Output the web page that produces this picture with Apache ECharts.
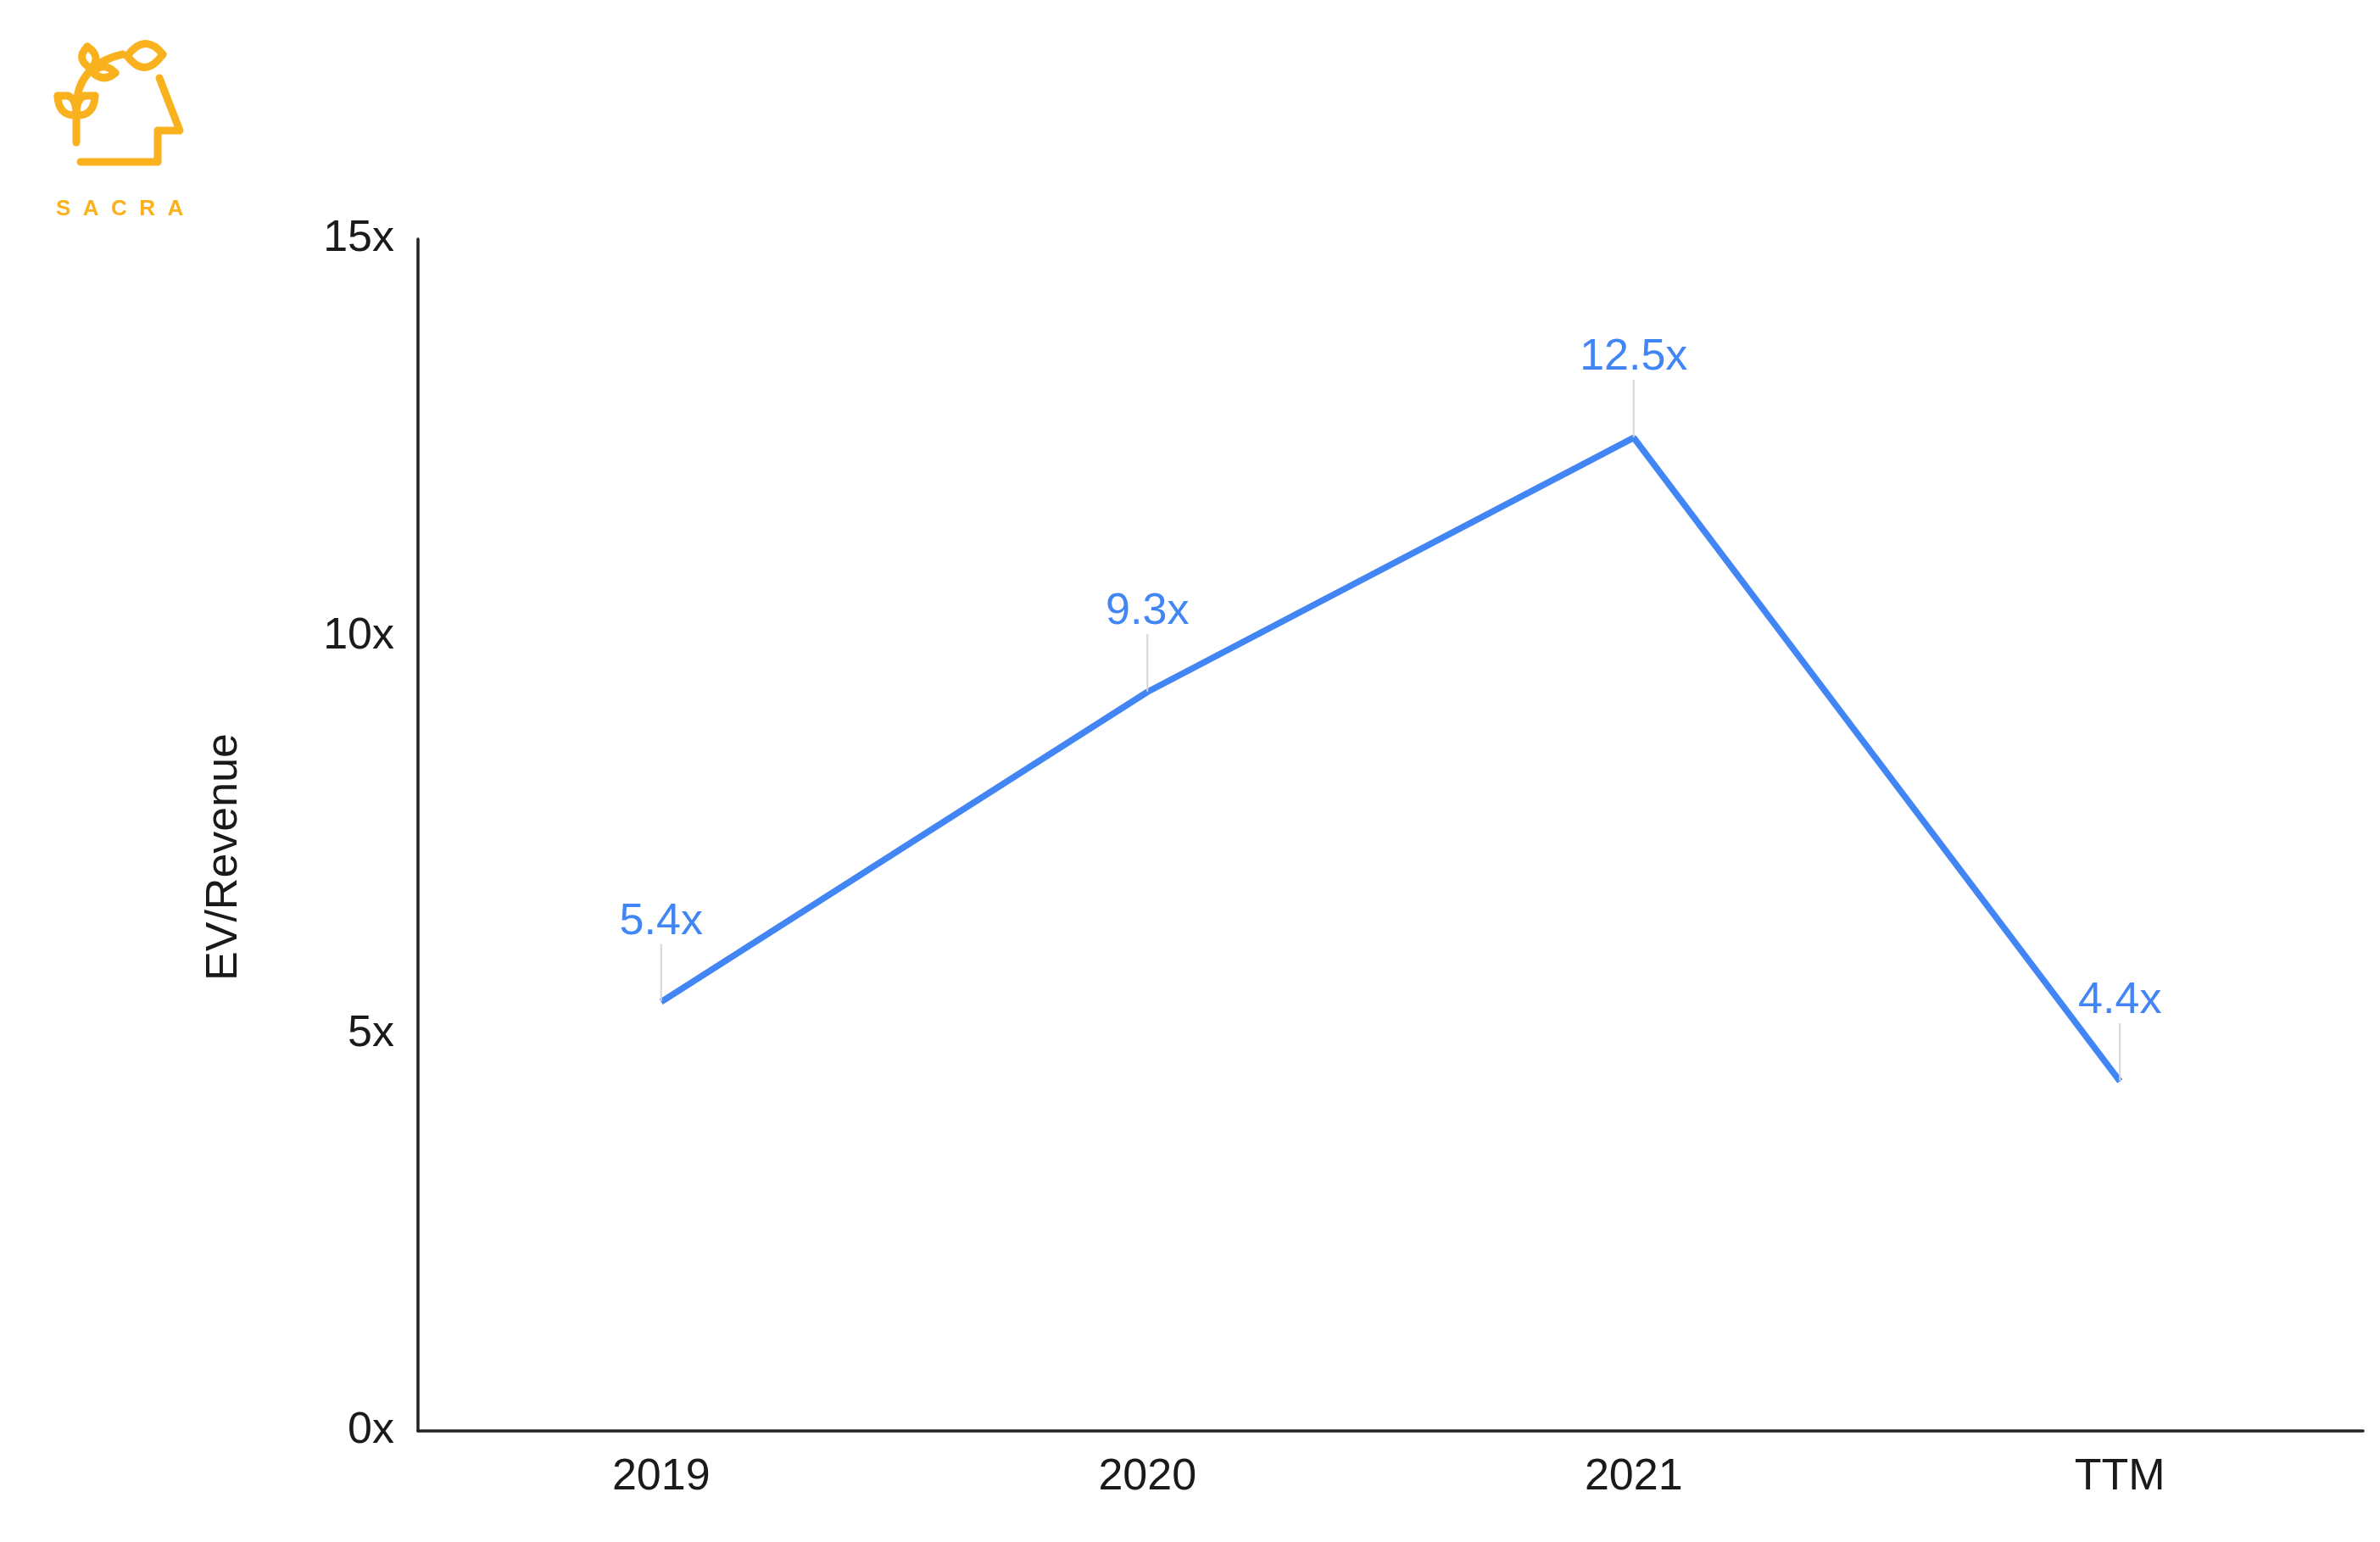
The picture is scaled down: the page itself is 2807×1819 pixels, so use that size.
<!DOCTYPE html>
<html>
<head>
<meta charset="utf-8">
<script src="https://cdn.jsdelivr.net/npm/echarts@6/dist/echarts.min.js"></script>
<style>
html,body{margin:0;padding:0;background:#fff;}
#chart{width:2807px;height:1819px;}
</style>
</head>
<body>
<div id="chart"></div>
<script>
const categories = ['2019', '2020', '2021', 'TTM'];
const evRevenue = [5.4, 9.3, 12.5, 4.4];
const yTicks = [0, 5, 10, 15];
const yAxisTitle = 'EV/Revenue';
const brandName = 'S  A  C  R  A';

const BLUE = '#4285F4';
const ORANGE = '#F9B21D';
const FONT = '"Liberation Sans", Arial, sans-serif';

const chart = echarts.init(document.getElementById('chart'), null, {renderer: 'canvas'});

function stroke() {
  return {stroke: ORANGE, lineWidth: 9, fill: null, lineCap: 'round', lineJoin: 'round'};
}
function qc(x1, y1, cx, cy, x2, y2) {
  return {type: 'bezierCurve', shape: {x1: x1, y1: y1, cpx1: cx, cpy1: cy, x2: x2, y2: y2}, style: stroke()};
}
function leaf(x1, y1, x2, y2, cax, cay, cbx, cby) {
  return [qc(x1, y1, cax, cay, x2, y2), qc(x1, y1, cbx, cby, x2, y2)];
}
function pl(points) {
  return {type: 'polyline', shape: {points: points}, style: stroke()};
}

const logo = [].concat(
  [pl([[90, 168], [90, 125]])],
  [qc(90, 125, 92, 76, 145, 64)],
  leaf(150, 66, 192, 64, 171, 38, 171, 94),
  leaf(103, 55, 108, 81, 120, 66, 88, 70),
  leaf(109, 85, 136, 86, 123, 72, 122, 98),
  [pl([[68, 113], [80, 113]])],
  [qc(80, 113, 90, 116, 90, 136), qc(68, 113, 69, 137, 90, 136)],
  [pl([[112, 113], [100, 113]])],
  [qc(100, 113, 90, 116, 90, 136), qc(112, 113, 111, 137, 90, 136)],
  [pl([[188, 92], [212, 154], [186, 154], [186, 191], [95, 191]])],
  [{type: 'text', x: 66, y: 234, style: {text: brandName, fill: ORANGE, font: 'bold 26px "Liberation Sans", Arial, sans-serif'}}]
);

chart.setOption({
  backgroundColor: '#ffffff',
  animation: false,
  grid: {left: 493, right: 20, top: 282, bottom: 131, containLabel: false},
  xAxis: {
    type: 'category',
    data: categories,
    boundaryGap: true,
    axisLine: {show: true, lineStyle: {color: '#222', width: 3.5}},
    axisTick: {show: false},
    axisLabel: {fontSize: 52, color: '#1a1a1a', fontFamily: FONT, margin: 29},
    splitLine: {show: false}
  },
  yAxis: {
    type: 'value',
    min: yTicks[0],
    max: yTicks[yTicks.length - 1],
    interval: 5,
    name: yAxisTitle,
    nameLocation: 'middle',
    nameRotate: 90,
    nameGap: 202,
    nameTextStyle: {fontSize: 52, color: '#1a1a1a', fontFamily: FONT, padding: [0, 52, 0, 0]},
    axisLine: {show: true, lineStyle: {color: '#222', width: 3.5}},
    axisTick: {show: false},
    axisLabel: {fontSize: 52, color: '#1a1a1a', fontFamily: FONT, margin: 28, formatter: '{value}x', padding: [10, 0, 0, 0]},
    splitLine: {show: false}
  },
  series: [{
    type: 'line',
    data: evRevenue,
    symbol: 'circle',
    symbolSize: 1,
    showSymbol: true,
    itemStyle: {color: BLUE},
    lineStyle: {color: BLUE, width: 7.5},
    label: {
      show: true,
      position: 'top',
      distance: 0,
      formatter: function (p) { return '{v|' + p.value + 'x}\n{l|}'; },
      rich: {
        v: {fontSize: 52, color: BLUE, fontFamily: FONT, lineHeight: 52, align: 'center'},
        l: {width: 2, height: 68, backgroundColor: '#d6d6d6', align: 'center'}
      }
    }
  }],
  graphic: logo
});
</script>
</body>
</html>
